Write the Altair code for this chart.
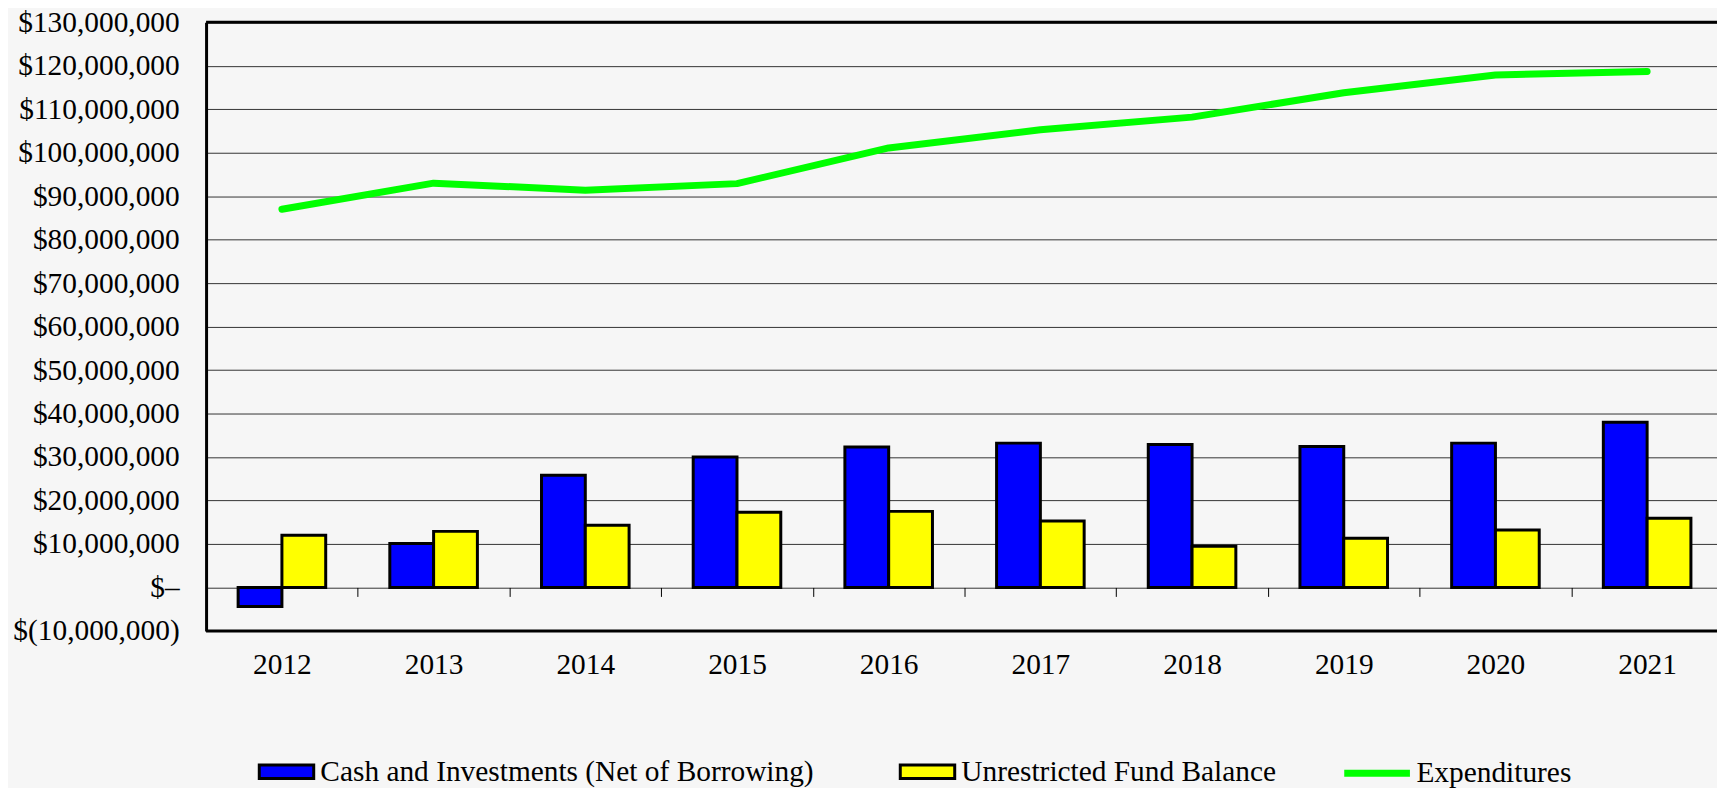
import altair as alt
import pandas as pd

# ---- data ----
years = ["2012", "2013", "2014", "2015", "2016", "2017", "2018", "2019", "2020", "2021"]
cash = [-4400000, 10100000, 25800000, 30000000, 32300000, 33200000, 32900000, 32400000, 33200000, 38000000]
unrestricted = [12000000, 12900000, 14300000, 17300000, 17500000, 15300000, 9500000, 11300000, 13200000, 15900000]
expenditures = [87000000, 93000000, 91400000, 92900000, 101100000, 105300000, 108200000, 113800000, 117900000, 118700000]
y_ticks = [-10000000, 0, 10000000, 20000000, 30000000, 40000000, 50000000, 60000000,
           70000000, 80000000, 90000000, 100000000, 110000000, 120000000, 130000000]
frame_values = [-10000000, 130000000]
bar_series = ["Cash and Investments (Net of Borrowing)", "Unrestricted Fund Balance"]
bar_colors = ["#0000ff", "#ffff00"]
line_series = ["Expenditures"]
line_colors = ["#00ff00"]

bars_df = pd.DataFrame({
    "year": years + years,
    "series": [bar_series[0]] * len(years) + [bar_series[1]] * len(years),
    "value": cash + unrestricted,
})
line_df = pd.DataFrame({"year": years, "series": line_series[0], "value": expenditures})
frame_df = pd.DataFrame({"v": frame_values})

FONT = "Liberation Serif"
FS = 29.5

x_scale = alt.Scale(domain=years, range=[0, 1524], paddingInner=0, paddingOuter=0)
y_scale = alt.Scale(domain=[-10000000, 130000000], nice=False, zero=False)

label_expr = ("datum.value == 0 ? '$\u2013\u00a0' : (datum.value < 0 ? '$(' + format(-datum.value, ',') + ')' "
              ": '$' + format(datum.value, ',') + '\u00a0')")

x_axis = alt.Axis(title=None, orient="bottom", offset=-43.67, domain=False, ticks=True,
                  tickBand="extent", tickSize=9, tickColor="black", tickWidth=1,
                  labelFont=FONT, labelFontSize=FS, labelColor="black", labelPadding=77.7,
                  labelBaseline="alphabetic", labelAngle=0, grid=False)
y_axis = alt.Axis(title=None, values=y_ticks, labelExpr=label_expr, labelFont=FONT, labelFontSize=FS,
                  labelColor="black", labelPadding=27, ticks=False, domain=True, domainColor="black",
                  domainWidth=3, grid=True, gridColor="#333333", gridWidth=1, labelAlign="right",
                  labelBaseline="middle", labelOverlap=False)

x_enc = alt.X("year:N", scale=x_scale, axis=x_axis, sort=years)
y_enc = alt.Y("value:Q", scale=y_scale, axis=y_axis)

bars = alt.Chart(bars_df).mark_bar(stroke="black", strokeWidth=3).encode(
    x=x_enc,
    xOffset=alt.XOffset("series:N", sort=bar_series,
                        scale=alt.Scale(domain=bar_series, paddingInner=0, paddingOuter=0.732)),
    y=y_enc,
    fill=alt.Fill("series:N", scale=alt.Scale(domain=bar_series, range=bar_colors),
                  legend=alt.Legend(title=None, orient="none", legendX=51.8, legendY=723.7,
                                    direction="horizontal", symbolType="M-1,-0.25H1V0.25H-1Z",
                                    symbolSize=2992, symbolStrokeColor="black", symbolStrokeWidth=3,
                                    labelFont=FONT, labelFontSize=FS, labelColor="black",
                                    labelOffset=5, columnPadding=80, padding=0, labelLimit=1000)),
)

line = alt.Chart(line_df).mark_line(strokeWidth=7, strokeCap="round", strokeJoin="round").encode(
    x=x_enc,
    y=y_enc,
    stroke=alt.Stroke("series:N", scale=alt.Scale(domain=line_series, range=line_colors),
                      legend=alt.Legend(title=None, orient="none", legendX=1140, legendY=718,
                                        symbolType="stroke", symbolSize=4356, symbolStrokeWidth=7,
                                        labelFont=FONT, labelFontSize=FS, labelColor="black",
                                        labelOffset=3, padding=0, labelLimit=1000)),
)

frame = alt.Chart(frame_df).mark_rule(color="black", strokeWidth=3).encode(
    y=alt.Y("v:Q", scale=y_scale, axis=y_axis)
)

chart = alt.layer(bars, line, frame).properties(
    width=1518,
    height=611.4,
    autosize=alt.AutoSizeParams(type="none"),
    padding={"left": 199, "top": 12.6, "right": 0, "bottom": 156},
    background="#f6f6f6",
).configure_view(stroke=None)

chart.save("out.html", embed_options={"renderer": "svg", "actions": False})
